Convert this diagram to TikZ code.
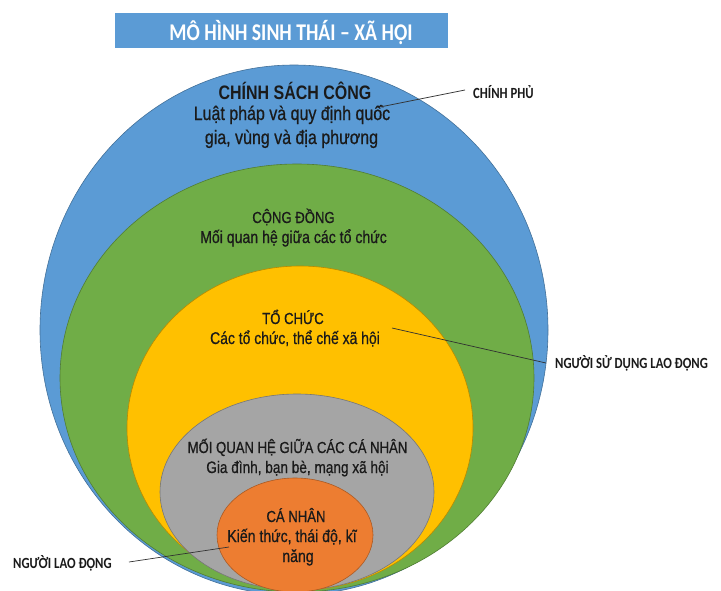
\documentclass[tikz,border=0pt]{standalone}
\usepackage{fontspec}
\setmainfont{Liberation Sans}
\newfontfamily\ringfont[FakeStretch=0.82,FakeBold=0.7]{Liberation Sans}
\newfontfamily\headfont[FakeStretch=0.82]{Liberation Sans}
\newfontfamily\labfont[FakeStretch=0.82]{Carlito}
\usetikzlibrary{shapes.geometric,arrows.meta}
\definecolor{cblue}{HTML}{5B9BD5}
\definecolor{cgreen}{HTML}{70AD47}
\definecolor{cyellow}{HTML}{FFC000}
\definecolor{cgray}{HTML}{A5A5A5}
\definecolor{corange}{HTML}{ED7D31}
\definecolor{ctext}{HTML}{1A1A1A}
\begin{document}
\begin{tikzpicture}[x=1pt,y=-1pt,
  ring/.style={ellipse, draw=#1!72!black, fill=#1, line width=0.6pt, inner sep=0pt},
  head/.style={anchor=base, inner sep=0pt, text=ctext, font=\headfont\bfseries\fontsize{#1}{#1}\selectfont},
  body/.style={anchor=base, inner sep=0pt, text=ctext, font=\ringfont\fontsize{#1}{#1}\selectfont},
  lab/.style={anchor=base west, inner sep=0pt, text=ctext, font=\labfont\bfseries\fontsize{15.5}{15.5}\selectfont},
  leader/.style={draw=ctext!90, line width=0.7pt}]
\useasboundingbox (0,0) rectangle (721,590);
\fill[white] (0,0) rectangle (721,590);
% title banner
\node[fill=cblue, minimum width=333pt, minimum height=35pt, inner sep=0pt] (banner) at (281.5,30.5) {};
\node[anchor=base, inner sep=0pt, text=white, font=\labfont\bfseries\fontsize{24}{24}\selectfont] (title) at (291,40) {MÔ HÌNH SINH THÁI – XÃ HỘI};
% rings
\begin{scope}
\clip (0,0) rectangle (721,590);
\node[ring=cblue, minimum width=508pt, minimum height=530pt] (pub) at (294,330) {};
\node[ring=cgreen, minimum width=474pt, minimum height=428pt] (com) at (297,378) {};
\node[ring=cyellow, minimum width=346pt, minimum height=324pt] (org) at (300,428) {};
\node[ring=cgray, minimum width=274pt, minimum height=196pt] (rel) at (297,492) {};
\node[ring=corange, minimum width=156pt, minimum height=114pt] (ind) at (295,535) {};
\end{scope}
% texts
\node[head=19.5] (t1a) at (295,99.5) {CHÍNH SÁCH CÔNG};
\node[body=19.5] (t1b) at (292,120) {Luật pháp và quy định quốc};
\node[body=19.5] (t1c) at (291.5,144) {gia, vùng và địa phương};
\node[body=16] (t2a) at (293.5,223) {CỘNG ĐỒNG};
\node[body=17.2] (t2b) at (293.5,243) {Mối quan hệ giữa các tổ chức};
\node[body=16] (t3a) at (293,324) {TỔ CHỨC};
\node[body=17] (t3b) at (295,344) {Các tổ chức, thể chế xã hội};
\node[body=16] (t4a) at (297.5,453) {MỐI QUAN HỆ GIỮA CÁC CÁ NHÂN};
\node[body=16.6] (t4b) at (297.5,473) {Gia đình, bạn bè, mạng xã hội};
\node[body=16] (t5a) at (296,522) {CÁ NHÂN};
\node[body=17.2] (t5b) at (292,542) {Kiến thức, thái độ, kĩ};
\node[body=17.2] (t5c) at (298,562) {năng};
% outside labels
\node[lab] (gov) at (473,98) {CHÍNH PHỦ};
\node[lab] (emp) at (555,368) {NGƯỜI SỬ DỤNG LAO ĐỘNG};
\node[lab] (wrk) at (13,568) {NGƯỜI LAO ĐỘNG};
% leader lines
\coordinate (govin) at (380,107);
\coordinate (govout) at (465,90);
\coordinate (empin) at (392,328);
\coordinate (empout) at (546,363);
\coordinate (wrkin) at (229,547);
\coordinate (wrkout) at (129,562);
\draw[leader, -{Stealth[length=3.5pt,width=2.5pt]}] (govout) -- (govin);
\draw[leader] (empin) -- (empout);
\draw[leader] (wrkout) -- (wrkin);
\end{tikzpicture}
\end{document}
